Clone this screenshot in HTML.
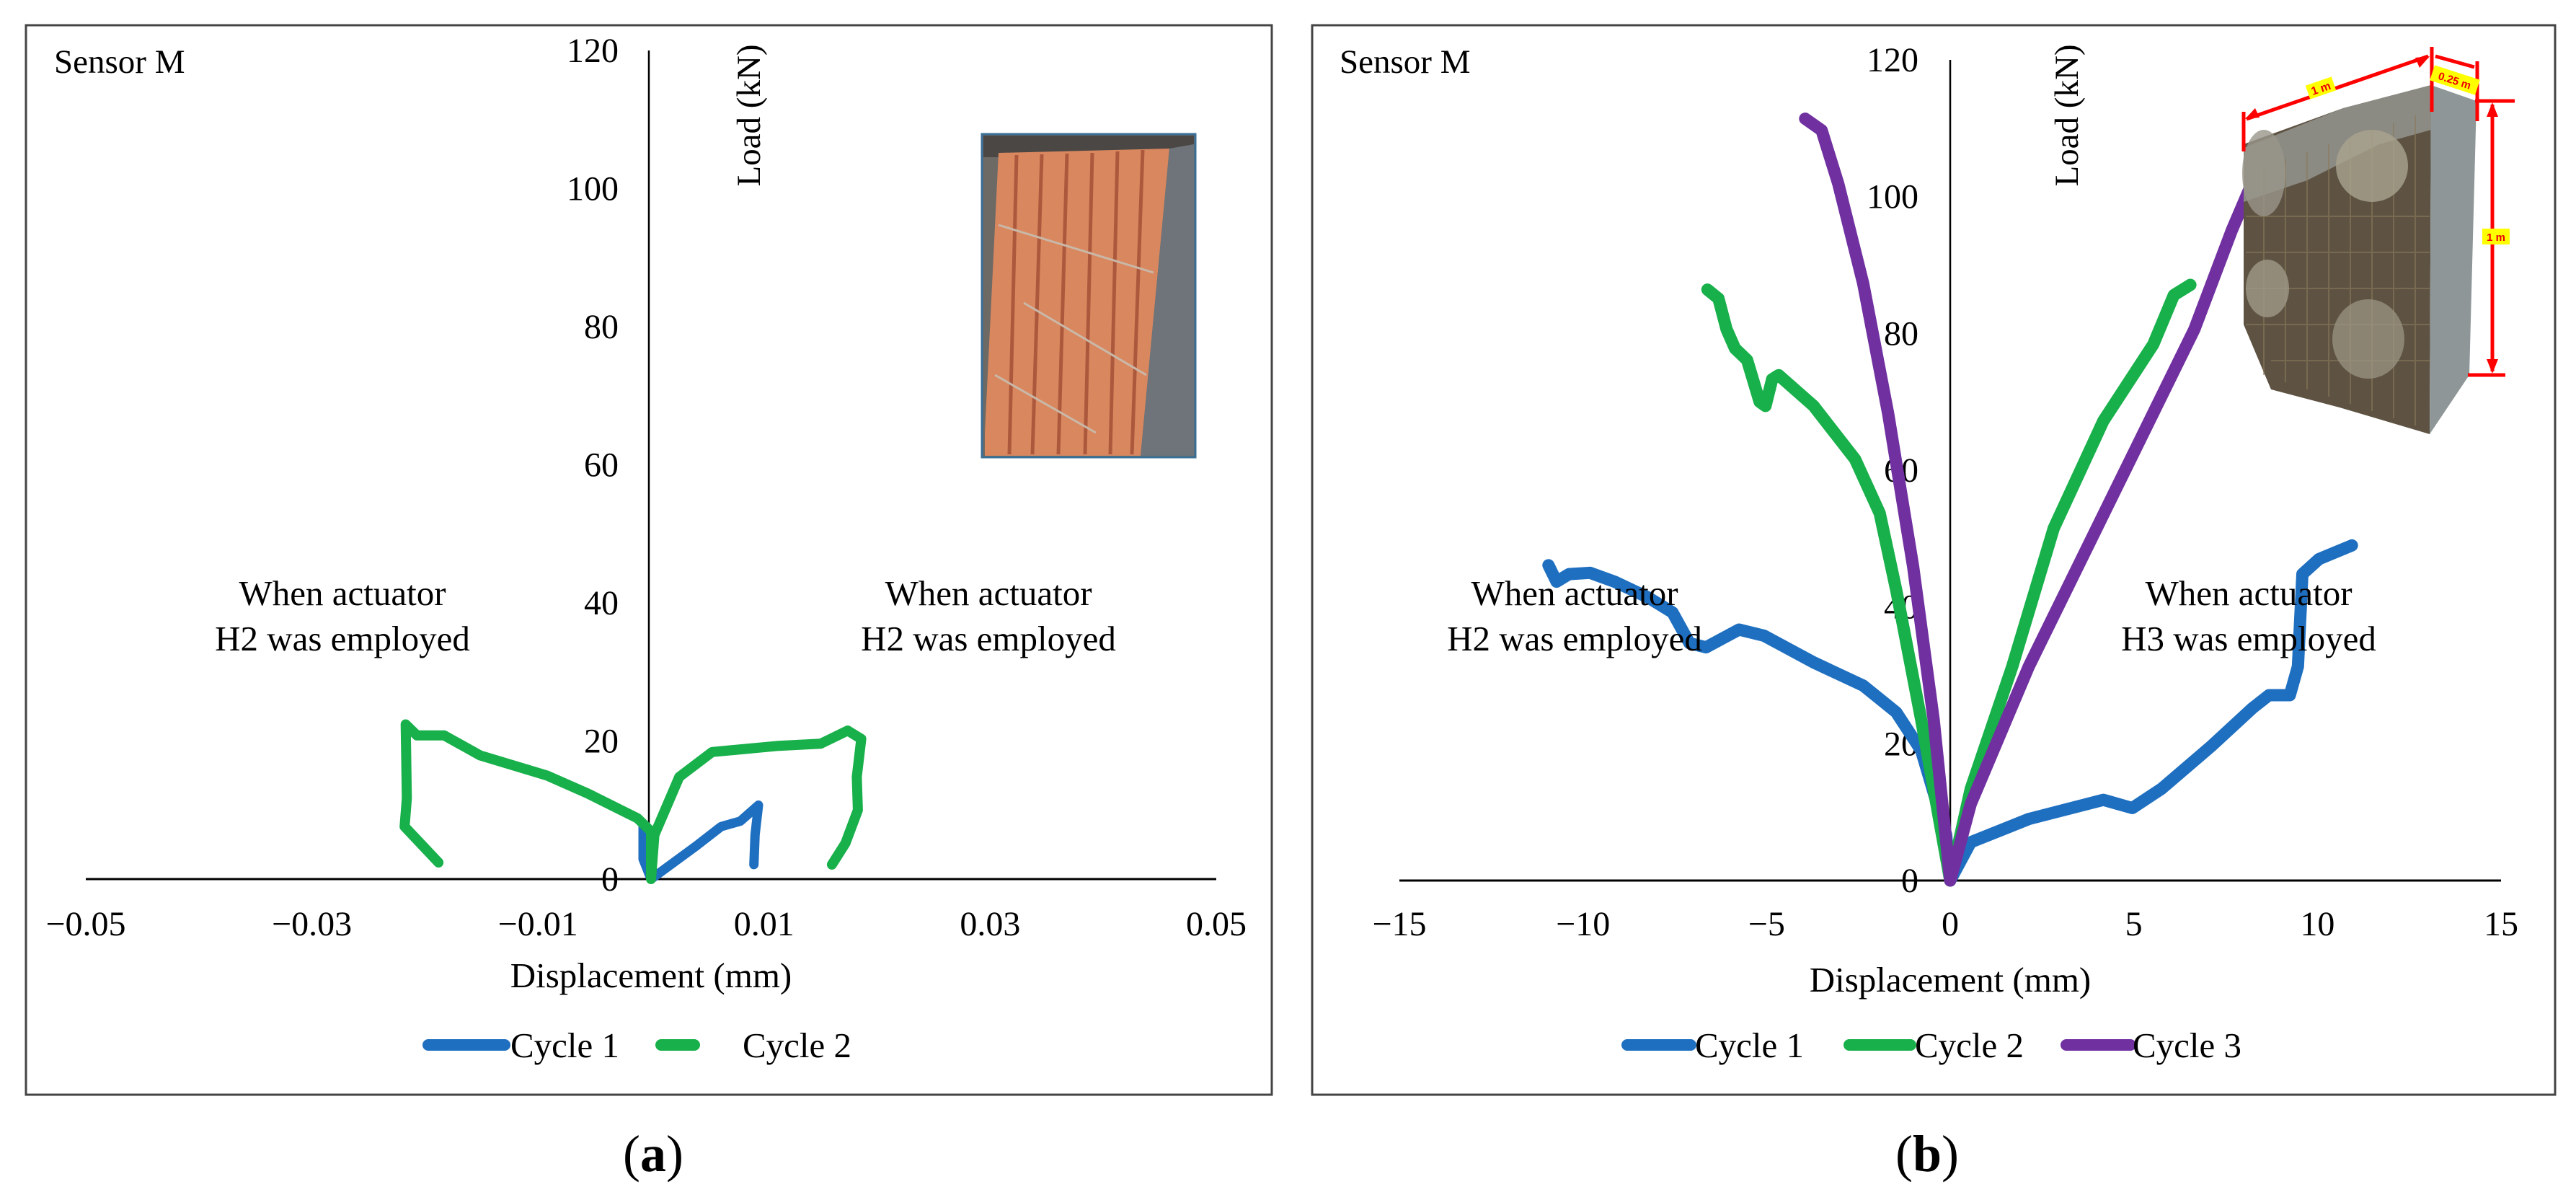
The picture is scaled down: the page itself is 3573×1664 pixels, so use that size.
<!DOCTYPE html>
<html><head><meta charset="utf-8"><style>
html,body{margin:0;padding:0;background:#fff;}
svg text{font-family:"Liberation Serif",serif;fill:#000;}
</style></head><body>
<svg id="fig" width="3573" height="1659" viewBox="0 0 3573 1659" xmlns="http://www.w3.org/2000/svg">
<rect x="0" y="0" width="3573" height="1659" fill="#fff"/>
<!-- panel a -->
<g>
<rect x="36" y="35" width="1728" height="1483" fill="none" stroke="#444" stroke-width="3"/>
<text x="75" y="101" font-size="47">Sensor M</text>
<text transform="translate(1054,160) rotate(-90)" font-size="47" text-anchor="middle">Load (kN)</text>
<text x="475" y="839" font-size="49" text-anchor="middle"><tspan x="475">When actuator</tspan><tspan x="475" y="902">H2 was employed</tspan></text>
<text x="1371" y="839" font-size="49" text-anchor="middle"><tspan x="1371">When actuator</tspan><tspan x="1371" y="902">H2 was employed</tspan></text>
<text x="903" y="1369" font-size="49" text-anchor="middle">Displacement (mm)</text>
<g>
<rect x="1362" y="186" width="296" height="448" fill="#6d6a66" stroke="#3a6f96" stroke-width="3"/>
<rect x="1364" y="188" width="292" height="30" fill="#4a4744"/>
<polygon points="1385,212 1622,206 1582,632 1366,632 1366,600" fill="#d9875f"/>
<polygon points="1622,206 1656,200 1656,632 1582,632" fill="#6e7479"/>
<g stroke="#9a4530" stroke-width="5" opacity="0.7">
<line x1="1410" y1="215" x2="1400" y2="630"/><line x1="1445" y1="214" x2="1432" y2="630"/><line x1="1480" y1="213" x2="1468" y2="630"/><line x1="1515" y1="212" x2="1505" y2="630"/><line x1="1550" y1="210" x2="1540" y2="630"/><line x1="1585" y1="208" x2="1570" y2="630"/>
</g>
<g stroke="#c9b8a8" stroke-width="3">
<line x1="1385" y1="312" x2="1600" y2="378"/><line x1="1420" y1="420" x2="1590" y2="520"/><line x1="1380" y1="520" x2="1520" y2="600"/>
</g>
</g>
<g id="axes-a"></g>
</g>
<!-- panel b -->
<g>
<rect x="1820" y="35" width="1724" height="1483" fill="none" stroke="#444" stroke-width="3"/>
<text x="1858" y="101" font-size="47">Sensor M</text>
<text transform="translate(2882,160) rotate(-90)" font-size="47" text-anchor="middle">Load (kN)</text>
<g id="axes-b"></g>
<text x="2184" y="839" font-size="49" text-anchor="middle"><tspan x="2184">When actuator</tspan><tspan x="2184" y="902">H2 was employed</tspan></text>
<text x="3119" y="839" font-size="49" text-anchor="middle"><tspan x="3119">When actuator</tspan><tspan x="3119" y="902">H3 was employed</tspan></text>
<text x="2705" y="1375" font-size="49" text-anchor="middle">Displacement (mm)</text>
<g>
<polygon points="3112,200 3250,150 3372,118 3370,602 3245,565 3150,540 3112,450" fill="#5e5343"/>
<polygon points="3112,205 3250,150 3372,118 3372,180 3300,200 3200,250 3112,280" fill="#8c8b83"/>
<g stroke="#8a7a5a" stroke-width="2" opacity="0.6">
<line x1="3140" y1="230" x2="3140" y2="520"/><line x1="3170" y1="220" x2="3170" y2="530"/><line x1="3200" y1="210" x2="3200" y2="540"/><line x1="3230" y1="200" x2="3230" y2="550"/><line x1="3260" y1="190" x2="3260" y2="560"/><line x1="3290" y1="180" x2="3290" y2="570"/><line x1="3320" y1="170" x2="3320" y2="580"/><line x1="3350" y1="160" x2="3350" y2="590"/>
<line x1="3115" y1="300" x2="3370" y2="300"/><line x1="3115" y1="350" x2="3370" y2="350"/><line x1="3115" y1="400" x2="3370" y2="400"/><line x1="3115" y1="450" x2="3370" y2="450"/><line x1="3150" y1="500" x2="3370" y2="500"/>
</g>
<ellipse cx="3290" cy="230" rx="50" ry="50" fill="#a9a48f" opacity="0.8"/>
<ellipse cx="3140" cy="240" rx="30" ry="60" fill="#99968a" opacity="0.8"/>
<ellipse cx="3145" cy="400" rx="30" ry="40" fill="#a09a88" opacity="0.8"/>
<ellipse cx="3285" cy="470" rx="50" ry="55" fill="#a09a88" opacity="0.7"/>
<polygon points="3372,118 3435,140 3425,520 3370,602" fill="#8e9698"/>
<g stroke="#f00" stroke-width="5" fill="none">
<line x1="3112" y1="155" x2="3112" y2="210"/>
<line x1="3116" y1="165" x2="3368" y2="78"/>
<line x1="3373" y1="65" x2="3373" y2="155"/>
<line x1="3378" y1="78" x2="3432" y2="93"/>
<line x1="3436" y1="85" x2="3436" y2="168"/>
<line x1="3433" y1="140" x2="3488" y2="140"/>
<line x1="3457" y1="145" x2="3457" y2="515"/>
<line x1="3423" y1="520" x2="3475" y2="520"/>
</g>
<g fill="#f00"><polygon points="3457,142 3449,162 3465,162"/><polygon points="3457,518 3449,498 3465,498"/><polygon points="3370,78 3350,80 3356,94"/><polygon points="3114,165 3134,163 3128,150"/></g>
<rect x="3200" y="112" width="38" height="20" fill="#ff0" transform="rotate(-19 3219 122)"/>
<text x="3219" y="128" font-size="16" font-weight="bold" text-anchor="middle" transform="rotate(-19 3219 122)" style="font-family:'Liberation Sans',sans-serif;fill:#e00">1 m</text>
<rect x="3372" y="100" width="66" height="22" fill="#ff0" transform="rotate(18 3405 111)"/>
<text x="3405" y="117" font-size="15" font-weight="bold" text-anchor="middle" transform="rotate(18 3405 111)" style="font-family:'Liberation Sans',sans-serif;fill:#e00">0.25 m</text>
<rect x="3443" y="317" width="38" height="22" fill="#ff0"/>
<text x="3462" y="334" font-size="15" font-weight="bold" text-anchor="middle" style="font-family:'Liberation Sans',sans-serif;fill:#e00">1 m</text>
</g>
</g>
<text x="906" y="1624" font-size="72" text-anchor="middle">(<tspan font-weight="bold">a</tspan>)</text>
<text x="2673" y="1624" font-size="72" text-anchor="middle">(<tspan font-weight="bold">b</tspan>)</text>
</svg>
<script>
// Panel a data
const aXTicks = [-0.05, -0.03, -0.01, 0.01, 0.03, 0.05];
const aXTickLabels = ["\u22120.05", "\u22120.03", "\u22120.01", "0.01", "0.03", "0.05"];
const aYTicks = [0, 20, 40, 60, 80, 100, 120];
const aC1x = [-0.0007, -0.0007, 0, 0.004, 0.0062, 0.0079, 0.0095, 0.0092, 0.0091];
const aC1y = [7.6, 2.9, 0, 4.8, 7.6, 8.4, 10.7, 6.4, 2.1];
const aC2x = [-0.0188, -0.0218, -0.0216, -0.0217, -0.0207, -0.0183, -0.0151, -0.0092, -0.0056, -0.0012, 0, 0, 0.0003, 0.0025, 0.0054, 0.0113, 0.015, 0.0174, 0.0186, 0.0182, 0.0183, 0.0172, 0.016];
const aC2y = [2.4, 7.6, 11.7, 22.4, 20.8, 20.8, 17.9, 15, 12.4, 8.8, 6.9, 0, 6.4, 14.8, 18.4, 19.3, 19.6, 21.5, 20.3, 14.8, 10, 5.2, 2.1];
// Panel b data
const bXTicks = [-15, -10, -5, 0, 5, 10, 15];
const bXTickLabels = ["\u221215", "\u221210", "\u22125", "0", "5", "10", "15"];
const bYTicks = [0, 20, 40, 60, 80, 100, 120];
const bC1x = [-10.94, -10.72, -10.38, -9.81, -9.14, -8.23, -7.56, -7.1, -6.65, -5.75, -5.07, -3.72, -2.37, -1.47, -0.79, -0.11, 0, 0.56, 2.14, 4.17, 4.96, 5.75, 7.1, 8.23, 8.68, 9.25, 9.47, 9.59, 10.04, 10.94];
const bC1y = [46.1, 43.7, 44.8, 45, 43.7, 41.4, 39.2, 34.7, 34.1, 36.7, 35.8, 31.9, 28.5, 24.6, 19, 6.7, 0, 5.6, 9, 11.8, 10.6, 13.4, 19.6, 25.2, 27.1, 27.1, 31.3, 44.8, 47, 49];
const bC2x = [-6.61, -6.31, -6.09, -5.86, -5.53, -5.19, -5.03, -4.85, -4.67, -3.72, -2.59, -1.92, -1.47, -0.79, 0, 0.56, 1.69, 2.82, 4.17, 5.53, 6.09, 6.54];
const bC2y = [86.4, 85.1, 80.6, 77.8, 76.1, 70, 69.4, 73.3, 73.9, 69.4, 61.6, 53.7, 42.5, 23.5, 0, 13.4, 31.3, 51.5, 67.2, 78.4, 85.6, 87.1];
const bC3x = [-3.95, -3.5, -3.05, -2.37, -1.69, -1.01, -0.45, 0, 0.56, 2.14, 4.4, 6.65, 7.67, 8.3];
const bC3y = [111.4, 109.7, 101.9, 87.3, 68.3, 45.9, 23.5, 0, 11.2, 31.3, 56, 80.6, 95.1, 103];

const NS = "http://www.w3.org/2000/svg";
function mk(tag, attrs, parent){const e=document.createElementNS(NS,tag);for(const k in attrs)e.setAttribute(k,attrs[k]);parent.appendChild(e);return e;}

function drawPanel(g, cfg){
  const sx = v => cfg.x0 + (v - cfg.xmin) / (cfg.xmax - cfg.xmin) * (cfg.x1 - cfg.x0);
  const sy = v => cfg.y0 - v / 120 * (cfg.y0 - cfg.ytop);
  const xa = mk('line',{x1:cfg.x0,y1:sy(0),x2:cfg.x1,y2:sy(0),stroke:'#000','stroke-width':3},g);
  
  
  const ya = mk('line',{x1:cfg.yax,y1:sy(120),x2:cfg.yax,y2:sy(0),stroke:'#000','stroke-width':2.5},g);
  
  
  cfg.xt.forEach((v,i)=>{
    const t = mk('text',{x:sx(v),y:1297,'font-size':48,'text-anchor':'middle'},g);
    t.textContent = cfg.xl[i];
    
    
  });
  cfg.yt.forEach(v=>{
    const t = mk('text',{x:cfg.ylx,y:sy(v)+16,'font-size':48,'text-anchor':'end'},g);
    t.textContent = String(v);
    
    
  });
  cfg.series.forEach(s=>{
    const d = s.x.map((v,i)=>(i?'L':'M')+sx(v).toFixed(1)+','+sy(s.y[i]).toFixed(1)).join(' ');
    const p = mk('path',{d:d,fill:'none',stroke:s.c,'stroke-width':s.w,'stroke-linejoin':'round','stroke-linecap':'round'},g);
    
    
  });
  cfg.legend.forEach(l=>{
    const ln = mk('line',{x1:l.a,y1:1449,x2:l.b,y2:1449,stroke:l.c,'stroke-width':16,'stroke-linecap':'round'},g);
    
    
    const t = mk('text',{x:l.tx,y:1466,'font-size':49},g);
    t.textContent = l.t;
    
    
  });
}
drawPanel(document.getElementById('axes-a'),{
  p:'panel-a', x0:119, x1:1687, xmin:-0.05, xmax:0.05, y0:1219, ytop:70, yax:900, ylx:858,
  xt:aXTicks, xl:aXTickLabels, yt:aYTicks,
  series:[{x:aC1x,y:aC1y,c:'#1f6fc0',w:13,n:'panel-a-cycle-1-line'},{x:aC2x,y:aC2y,c:'#18b04a',w:14,n:'panel-a-cycle-2-line'}],
  legend:[{a:594,b:700,c:'#1f6fc0',tx:708,t:'Cycle 1'},{a:917,b:963,c:'#18b04a',tx:1030,t:'Cycle 2'}]
});
drawPanel(document.getElementById('axes-b'),{
  p:'panel-b', x0:1941, x1:3469, xmin:-15, xmax:15, y0:1221, ytop:83, yax:2705, ylx:2661,
  xt:bXTicks, xl:bXTickLabels, yt:bYTicks,
  series:[{x:bC1x,y:bC1y,c:'#1f6fc0',w:17,n:'panel-b-cycle-1-line'},{x:bC2x,y:bC2y,c:'#18b04a',w:17,n:'panel-b-cycle-2-line'},{x:bC3x,y:bC3y,c:'#7030a0',w:17,n:'panel-b-cycle-3-line'}],
  legend:[{a:2257,b:2345,c:'#1f6fc0',tx:2351,t:'Cycle 1'},{a:2565,b:2650,c:'#18b04a',tx:2656,t:'Cycle 2'},{a:2866,b:2955,c:'#7030a0',tx:2958,t:'Cycle 3'}]
});
</script>
</body></html>
